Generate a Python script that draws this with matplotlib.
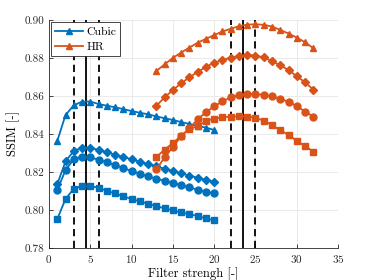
import numpy as np
import matplotlib
matplotlib.use('Agg')
import matplotlib.pyplot as plt

plt.rcParams['font.family'] = 'serif'
plt.rcParams['font.serif'] = ['cmr10', 'DejaVu Serif']
plt.rcParams['mathtext.fontset'] = 'cm'
plt.rcParams['axes.formatter.use_mathtext'] = True

BLUE = '#0072BD'
ORANGE = '#D95319'

# filter strengths
x_cubic = list(range(1, 21))
x_hr = list(range(13, 33))

# Cubic interpolation curves
cubic_tri = [0.8362, 0.8499, 0.8550, 0.8570, 0.8570, 0.8557, 0.8548, 0.8540, 0.8530, 0.8520,
             0.8511, 0.8503, 0.8492, 0.8482, 0.8473, 0.8462, 0.8452, 0.8441, 0.8433, 0.8420]
cubic_dia = [0.8134, 0.8255, 0.8310, 0.8327, 0.8327, 0.8315, 0.8304, 0.8290, 0.8278, 0.8266,
             0.8253, 0.8241, 0.8229, 0.8216, 0.8204, 0.8192, 0.8180, 0.8169, 0.8158, 0.8148]
cubic_cir = [0.8104, 0.8209, 0.8266, 0.8280, 0.8276, 0.8264, 0.8250, 0.8236, 0.8220, 0.8204,
             0.8190, 0.8176, 0.8164, 0.8153, 0.8141, 0.8130, 0.8118, 0.8106, 0.8095, 0.8086]
cubic_sq = [0.7951, 0.8057, 0.8111, 0.8125, 0.8125, 0.8116, 0.8100, 0.8086, 0.8071, 0.8057,
            0.8044, 0.8032, 0.8020, 0.8007, 0.7997, 0.7986, 0.7977, 0.7967, 0.7955, 0.7944]

# HR curves
hr_tri = [0.8731, 0.8766, 0.8800, 0.8828, 0.8854, 0.8880, 0.8900, 0.8920, 0.8939, 0.8953,
          0.8967, 0.8975, 0.8977, 0.8974, 0.8965, 0.8947, 0.8928, 0.8907, 0.8882, 0.8851]
hr_dia = [0.8548, 0.8592, 0.8631, 0.8666, 0.8698, 0.8726, 0.8752, 0.8775, 0.8789, 0.8801,
          0.8810, 0.8814, 0.8812, 0.8803, 0.8782, 0.8761, 0.8736, 0.8703, 0.8671, 0.8633]
hr_cir = [0.8213, 0.8276, 0.8332, 0.8387, 0.8429, 0.8477, 0.8513, 0.8545, 0.8571, 0.8592,
          0.8603, 0.8610, 0.8610, 0.8605, 0.8598, 0.8584, 0.8568, 0.8547, 0.8517, 0.8491]
hr_sq = [0.8278, 0.8317, 0.8352, 0.8389, 0.8427, 0.8440, 0.8468, 0.8480, 0.8487, 0.8491,
         0.8492, 0.8491, 0.8485, 0.8469, 0.8447, 0.8418, 0.8396, 0.8362, 0.8336, 0.8306]

dashed_x = [3, 6, 22, 25]
solid_x = [4.5, 23.5]

fig = plt.figure(figsize=(3.74, 2.80), dpi=100)
ax = fig.add_axes([0.131, 0.115, 0.773, 0.814])

for xv in dashed_x:
    ax.axvline(xv, color='black', linestyle=(0, (4, 2.5)), linewidth=1.3, zorder=1)
for xv in solid_x:
    ax.axvline(xv, color='black', linewidth=1.3, zorder=1)

kw = dict(linewidth=1.3, markersize=5, zorder=3)
kw_small = dict(kw, markersize=4.2)
ax.plot(x_cubic, cubic_tri, '-^', color=BLUE, label='Cubic', **kw)
ax.plot(x_cubic, cubic_dia, '-D', color=BLUE, **kw_small)
ax.plot(x_cubic, cubic_cir, '-o', color=BLUE, **kw)
ax.plot(x_cubic, cubic_sq, '-s', color=BLUE, **kw_small)

ax.plot(x_hr, hr_tri, '-^', color=ORANGE, label='HR', **kw)
ax.plot(x_hr, hr_dia, '-D', color=ORANGE, **kw_small)
ax.plot(x_hr, hr_cir, '-o', color=ORANGE, **kw)
ax.plot(x_hr, hr_sq, '-s', color=ORANGE, **kw_small)

ax.set_xlim(0, 35)
ax.set_ylim(0.78, 0.90)
ax.set_xticks(np.arange(0, 36, 5))
ax.set_yticks(np.arange(0.78, 0.901, 0.02))
ax.yaxis.set_major_formatter(matplotlib.ticker.FormatStrFormatter('%.2f'))
ax.grid(True, color='#e6e6e6', linewidth=0.6, zorder=0)
ax.set_axisbelow(True)
ax.spines['top'].set_visible(False)
ax.spines['right'].set_visible(False)
for s in ['left', 'bottom']:
    ax.spines[s].set_color('#262626')
    ax.spines[s].set_linewidth(0.6)
ax.tick_params(direction='in', length=3, width=0.6, labelsize=8, colors='#262626')

ax.set_xlabel('Filter strengh [-]', fontsize=9, labelpad=2)
ax.set_ylabel('SSIM [-]', fontsize=9, labelpad=3)

leg = ax.legend(loc='upper left', fontsize=8.5, fancybox=False, framealpha=1,
                edgecolor='#262626', borderpad=0.35, handlelength=2.3,
                handletextpad=0.3, borderaxespad=0.2, labelspacing=0.45)
leg.get_frame().set_linewidth(0.6)

fig.savefig('out.png', dpi=100)
